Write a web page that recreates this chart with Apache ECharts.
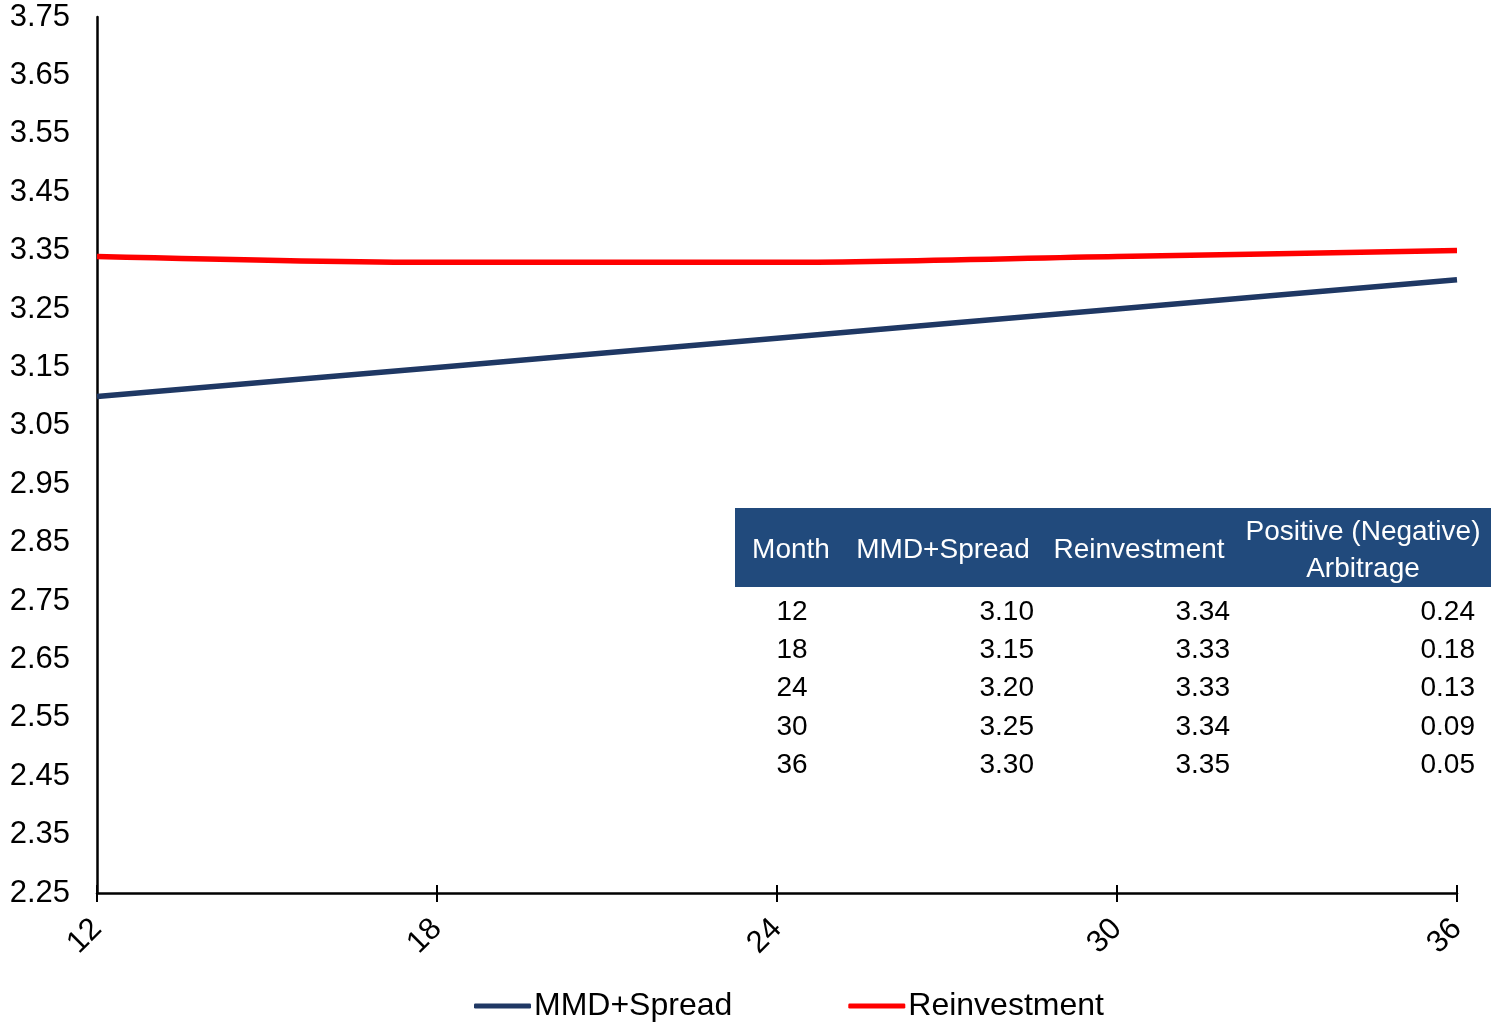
<!DOCTYPE html>
<html>
<head>
<meta charset="utf-8">
<script src="https://cdn.jsdelivr.net/npm/echarts@6/dist/echarts.min.js"></script>
<style>
  html, body { margin: 0; padding: 0; background: #ffffff; }
  #chart { width: 1491px; height: 1023px; }
</style>
</head>
<body>
<div id="chart"></div>
<script>
// Yield curve inputs by month
const months = ['12', '18', '24', '30', '36'];
const mmdSpread = [3.10, 3.15, 3.20, 3.25, 3.30];
const reinvestment = [3.34, 3.33, 3.33, 3.34, 3.35];
const arbitrage = [0.24, 0.18, 0.13, 0.09, 0.05];
const tableHeaders = ['Month', 'MMD+Spread', 'Reinvestment', 'Positive (Negative)\nArbitrage'];

const FONT = '"Liberation Sans", Arial, sans-serif';
const NAVY = '#1F3864';
const HEADER_FILL = '#214A7C';

// Summary table drawn over the plot area
const tableLeft = 735, tableRight = 1491, headTop = 508, headBottom = 587;
const rowTop = 611, rowStep = 38.3;
const colCenters = [791, 943, 1139, 1363];
const colRight = [1034, 1230, 1475];

const graphics = [{
  type: 'rect',
  shape: { x: tableLeft, y: headTop, width: tableRight - tableLeft, height: headBottom - headTop },
  style: { fill: HEADER_FILL },
  z: 10
}];
tableHeaders.forEach((h, i) => {
  graphics.push({
    type: 'text',
    x: colCenters[i],
    y: (headTop + headBottom) / 2 + 3,
    style: {
      text: h, fill: '#ffffff', font: '28px ' + FONT,
      align: 'center', verticalAlign: 'middle', lineHeight: 37
    },
    z: 11
  });
});
months.forEach((m, r) => {
  const y = rowTop + r * rowStep;
  const cells = [mmdSpread[r].toFixed(2), reinvestment[r].toFixed(2), arbitrage[r].toFixed(2)];
  graphics.push({
    type: 'text', x: colCenters[0] + 1, y: y + 1,
    style: { text: m, fill: '#000000', font: '28px ' + FONT, align: 'center', verticalAlign: 'middle' },
    z: 11
  });
  cells.forEach((c, k) => {
    graphics.push({
      type: 'text', x: colRight[k], y: y + 1,
      style: { text: c, fill: '#000000', font: '28px ' + FONT, align: 'right', verticalAlign: 'middle' },
      z: 11
    });
  });
});

const chart = echarts.init(document.getElementById('chart'), null, { renderer: 'canvas' });
chart.setOption({
  animation: false,
  backgroundColor: '#ffffff',
  textStyle: { fontFamily: FONT },
  grid: { left: 97, right: 34, top: 17, bottom: 130, containLabel: false },
  legend: {
    bottom: -4,
    left: 469,
    itemWidth: 57,
    itemHeight: 5,
    itemGap: 116,
    icon: 'roundRect',
    textStyle: { fontSize: 32, color: '#000000', fontFamily: FONT, padding: [0, 0, 0, -2] },
    data: ['MMD+Spread', 'Reinvestment']
  },
  xAxis: [{
    type: 'category',
    data: months,
    boundaryGap: false,
    axisLine: { lineStyle: { color: '#000000', width: 2.5 } },
    axisTick: { show: true, alignWithLabel: true, length: 9, inside: false, lineStyle: { color: '#000000', width: 2 } },
    axisLabel: { rotate: 45, fontSize: 31, color: '#000000', margin: 31, fontFamily: FONT },
    splitLine: { show: false }
  }, {
    // inward half of the crossing ticks
    type: 'category',
    data: months,
    boundaryGap: false,
    position: 'bottom',
    axisLine: { show: false },
    axisTick: { show: true, inside: true, length: 8, lineStyle: { color: '#000000', width: 2 } },
    axisLabel: { show: false },
    splitLine: { show: false }
  }],
  yAxis: {
    type: 'value',
    min: 2.25,
    max: 3.75,
    interval: 0.05,
    axisLine: { show: true, lineStyle: { color: '#000000', width: 2.5 } },
    axisTick: { show: false },
    splitLine: { show: false },
    axisLabel: {
      fontSize: 31,
      color: '#000000',
      margin: 27,
      fontFamily: FONT,
      formatter: function (v) {
        const step = Math.round((v - 2.25) / 0.05);
        return step % 2 === 0 ? v.toFixed(2) : '';
      }
    }
  },
  series: [{
    name: 'MMD+Spread',
    type: 'line',
    data: mmdSpread,
    smooth: 0.3,
    symbol: 'none',
    itemStyle: { color: NAVY },
    lineStyle: { color: NAVY, width: 5.5 }
  }, {
    name: 'Reinvestment',
    type: 'line',
    data: reinvestment,
    smooth: 0.3,
    symbol: 'none',
    itemStyle: { color: '#FF0000' },
    lineStyle: { color: '#FF0000', width: 5.5 }
  }],
  graphic: graphics
});
</script>
</body>
</html>
